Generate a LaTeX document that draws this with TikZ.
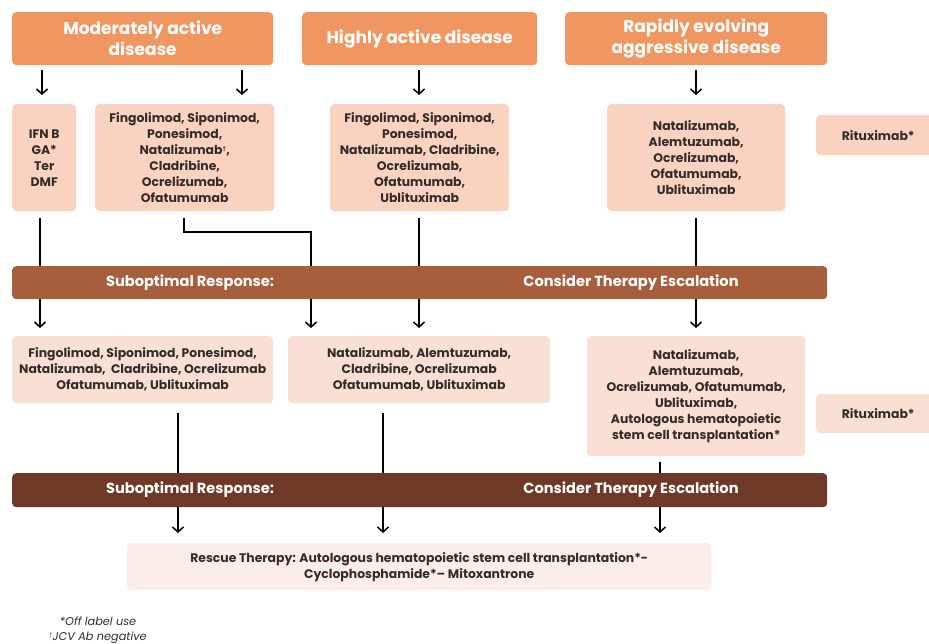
\documentclass[tikz,border=0pt]{standalone}
\usepackage{fontspec}
\setmainfont{Poppins}
\usetikzlibrary{arrows.meta,calc}
\definecolor{hdrc}{RGB}{240,150,96}
\definecolor{rowa}{RGB}{250,211,192}
\definecolor{rowb}{RGB}{250,223,213}
\definecolor{resc}{RGB}{253,237,232}
\definecolor{bara}{RGB}{166,94,60}
\definecolor{barb}{RGB}{110,58,39}
\definecolor{txt}{RGB}{51,45,42}
\begin{document}
\begin{tikzpicture}[x=1pt,y=-1pt,
  hdr/.style={fill=hdrc, rounded corners=4pt, text=white, anchor=north west, inner sep=0pt,
    align=center, font=\fontsize{17}{21}\selectfont\bfseries},
  boxa/.style={fill=rowa, rounded corners=4pt, text=txt, anchor=north west, inner sep=0pt,
    align=center, font=\fontsize{12.4}{16}\selectfont\bfseries},
  boxb/.style={boxa, fill=rowb},
  boxc/.style={boxa, fill=resc},
  barx/.style={rounded corners=4pt, anchor=north west, inner sep=0pt},
  bartext/.style={text=white, font=\fontsize{14.6}{16}\selectfont\bfseries, inner sep=0pt},
  conn/.style={line width=1.5pt, black},
  arr/.style={conn, -{Straight Barb[length=5pt,width=11pt,line width=1.5pt]}},
  foot/.style={text=txt, font=\fontsize{11.3}{15}\selectfont\itshape, align=center, inner sep=0pt}
]
\useasboundingbox (0,0) rectangle (929,643);
\clip (0,0) rectangle (929,643);
\fill[white] (0,0) rectangle (929,643);

% headers
\node[hdr, minimum width=261pt, minimum height=53pt] (H1) at (12,12) {Moderately active\\disease};
\node[hdr, minimum width=235pt, minimum height=53pt] (H2) at (302,12) {Highly active disease};
\node[hdr, minimum width=262pt, minimum height=53pt] (H3) at (565,12) {Rapidly evolving\\aggressive disease};

% row 1
\node[boxa, minimum width=64pt, minimum height=107pt] (B1) at (12,104) {IFN B\\GA*\\Ter\\DMF};
\node[boxa, minimum width=179pt, minimum height=107pt] (B2) at (95,104) {Fingolimod, Siponimod,\\Ponesimod,\\Natalizumab\textsuperscript{\tiny †},\\Cladribine,\\Ocrelizumab,\\Ofatumumab};
\node[boxa, minimum width=179pt, minimum height=107pt] (B3) at (330,104) {Fingolimod, Siponimod,\\Ponesimod,\\Natalizumab, Cladribine,\\Ocrelizumab,\\Ofatumumab,\\Ublituximab};
\node[boxa, minimum width=178pt, minimum height=107pt] (B4) at (607,104) {Natalizumab,\\Alemtuzumab,\\Ocrelizumab,\\Ofatumumab,\\Ublituximab};
\node[boxa, minimum width=124pt, minimum height=40pt] (R1) at (816,115) {Rituximab*};

% bar 1
\node[barx, fill=bara, minimum width=815pt, minimum height=33pt] (bar1) at (12,266) {};
\node[bartext] (s1) at (190,282.5) {Suboptimal Response:};
\node[bartext] (e1) at (631,282.5) {Consider Therapy Escalation};

% row 2
\node[boxb, minimum width=261pt, minimum height=67pt] (C1) at (12,336) {Fingolimod, Siponimod, Ponesimod,\\Natalizumab,\ \ Cladribine, Ocrelizumab\\Ofatumumab, Ublituximab};
\node[boxb, minimum width=262pt, minimum height=67pt] (C2) at (288,336) {Natalizumab, Alemtuzumab,\\Cladribine, Ocrelizumab\\Ofatumumab, Ublituximab};
\node[boxb, minimum width=218pt, minimum height=120pt] (C3) at (587,336) {Natalizumab,\\Alemtuzumab,\\Ocrelizumab, Ofatumumab,\\Ublituximab,\\Autologous hematopoietic\\stem cell transplantation*};
\node[boxb, minimum width=124pt, minimum height=39pt] (R2) at (816,394) {Rituximab*};

% bar 2
\node[barx, fill=barb, minimum width=815pt, minimum height=34pt] (bar2) at (12,473) {};
\node[bartext] (s2) at (190,490) {Suboptimal Response:};
\node[bartext] (e2) at (631,490) {Consider Therapy Escalation};

% rescue
\node[boxc, minimum width=584pt, minimum height=47pt] (RS) at (127,543) {Rescue Therapy: Autologous hematopoietic stem cell transplantation*-\\Cyclophosphamide*-- Mitoxantrone};

% footnotes
\node[foot] (fn) at (98,630) {*Off label use\\\textsuperscript{\tiny †}JCV Ab negative};

% coordinates for connector columns
\coordinate (xa) at (40,0);
\coordinate (xb) at (311,0);
\coordinate (xc) at (419,0);
\coordinate (xd) at (696,0);
\coordinate (xe) at (178,0);
\coordinate (xf) at (383,0);
\coordinate (xg) at (660,0);
\coordinate (h1a) at (42,0);
\coordinate (h1b) at (242,0);
\coordinate (k1) at (184,232);

% header arrows
\draw[arr, shorten <=5pt, shorten >=9pt] (H1.south -| h1a) -- (B1.north -| h1a);
\draw[arr, shorten <=5pt, shorten >=9pt] (H1.south -| h1b) -- (B2.north -| h1b);
\draw[arr, shorten <=5pt, shorten >=9pt] (H2.south -| xc) -- (B3.north -| xc);
\draw[arr, shorten <=5pt, shorten >=9pt] (H3.south -| xd) -- (B4.north -| xd);

% row1 to bar1
\draw[conn, shorten <=7pt] (B1.south -| xa) -- (bar1.north -| xa);
\draw[conn, shorten <=7pt] (B2.south -| k1) -- (k1) -- (k1 -| xb) -- (bar1.north -| xb);
\draw[conn, shorten <=7pt] (B3.south -| xc) -- (bar1.north -| xc);
\draw[conn, shorten <=7pt] (B4.south -| xd) -- (bar1.north -| xd);

% bar1 to row2
\draw[arr, shorten >=8pt] (bar1.south -| xa) -- (C1.north -| xa);
\draw[arr, shorten >=8pt] (bar1.south -| xb) -- (C2.north -| xb);
\draw[arr, shorten >=8pt] (bar1.south -| xc) -- (C2.north -| xc);
\draw[arr, shorten >=8pt] (bar1.south -| xd) -- (C3.north -| xd);

% row2 to bar2
\draw[conn, shorten <=10pt] (C1.south -| xe) -- (bar2.north -| xe);
\draw[conn, shorten <=10pt] (C2.south -| xf) -- (bar2.north -| xf);
\draw[conn, shorten <=6pt] (C3.south -| xg) -- (bar2.north -| xg);

% bar2 to rescue
\draw[arr, shorten >=10pt] (bar2.south -| xe) -- (RS.north -| xe);
\draw[arr, shorten >=10pt] (bar2.south -| xf) -- (RS.north -| xf);
\draw[arr, shorten >=10pt] (bar2.south -| xg) -- (RS.north -| xg);
\end{tikzpicture}
\end{document}
